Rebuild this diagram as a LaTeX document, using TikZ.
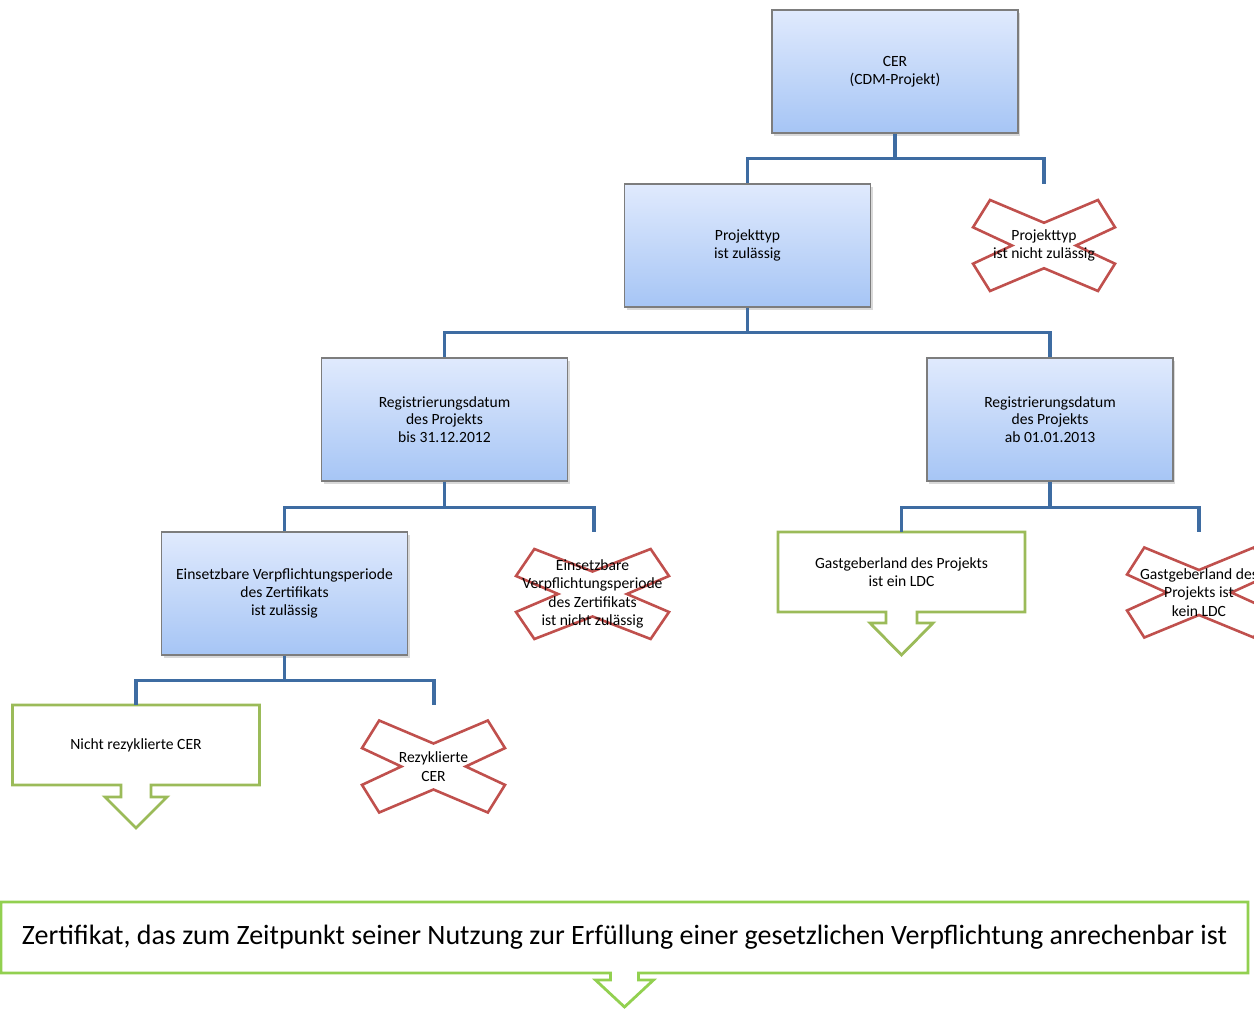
\documentclass[tikz,border=0pt]{standalone}
\usepackage{fontspec}
\setmainfont{Carlito}
\usetikzlibrary{calc,shadows,backgrounds}

\definecolor{astblau}{RGB}{62,108,162}
\definecolor{kastenrand}{RGB}{125,125,125}
\definecolor{kastenoben}{RGB}{224,234,253}
\definecolor{kastenunten}{RGB}{166,197,245}
\definecolor{kreuzrot}{RGB}{192,80,77}
\definecolor{olivgruen}{RGB}{155,187,89}
\definecolor{hellgruen}{RGB}{146,208,80}

\tikzset{
  kasten/.style={draw=kastenrand, line width=1.2pt, top color=kastenoben, bottom color=kastenunten,
    minimum width=246, minimum height=123, align=center, font=\fontsize{15.6}{17.8}\selectfont,
    drop shadow={shadow xshift=2pt, shadow yshift=-2.5pt, opacity=.3}},
  ziel/.style={minimum width=247, minimum height=80, outer sep=0pt, align=center,
    font=\fontsize{15.6}{17.8}\selectfont},
  nein/.style={inner sep=0pt, align=center, font=\fontsize{15.6}{18.5}\selectfont},
  ast/.style={draw=astblau, line width=3.2pt},
  rahmen/.style={line width=2.8pt, line join=miter},
  kreuz/.pic={\draw[draw=kreuzrot, line width=2.6pt, line join=miter]
    (-1,-.4) -- (-.76,-1) -- (0,-.5) -- (.76,-1) -- (1,-.4) -- (.45,0) -- (1,.4) -- (.76,1)
    -- (0,.5) -- (-.76,1) -- (-1,.4) -- (-.45,0) -- cycle;}
}

\begin{document}
\begin{tikzpicture}[x=1pt,y=-1pt]
\useasboundingbox (0,0) rectangle (1254,1009);
% Kaesten
\node[kasten] (cer) at (895,71.5) {CER\\(CDM-Projekt)};
\node[kasten] (pt) at (747.5,245.5) {Projekttyp\\ist zulässig};
\node[kasten] (rl) at (444.5,419.5) {Registrierungsdatum\\des Projekts\\bis 31.12.2012};
\node[kasten] (rr) at (1050,419.5) {Registrierungsdatum\\des Projekts\\ab 01.01.2013};
\node[kasten] (ez) at (284.5,593.5) {Einsetzbare Verpflichtungsperiode\\des Zertifikats\\ist zulässig};
% Ergebnisse
\node[ziel] (gl) at (901.5,572) {Gastgeberland des Projekts\\ist ein LDC};
\node[ziel] (nr) at (136,745) {Nicht rezyklierte CER};
\node[ziel, minimum width=1247, minimum height=71, font=\fontsize{28}{32}\selectfont] (zf) at (624.5,937.5)
  {Zertifikat, das zum Zeitpunkt seiner Nutzung zur Erfüllung einer gesetzlichen Verpflichtung anrechenbar ist};
% Ausschluesse
\node[nein] (k1) at (1044,245.5) {Projekttyp\\ist nicht zulässig};
\node[nein] (k2) at (592.5,594) {Einsetzbare\\Verpflichtungsperiode\\des Zertifikats\\ist nicht zulässig};
\node[nein] (k3) at (1199,592.5) {Gastgeberland des\\Projekts ist\\kein LDC};
\node[nein] (k4) at (433.5,766.5) {Rezyklierte\\CER};
\coordinate (k1o) at (1044,184);
\coordinate (k2o) at (594,532);
\coordinate (k3o) at (1199,532);
\coordinate (k4o) at (434,705);

\begin{scope}[on background layer]
\foreach \n/\a/\b in {k1/71/45.5, k2/76.5/45, k3/72/45, k4/71.5/46}
  \pic[xscale=\a,yscale=\b] at (\n) {kreuz};
\end{scope}

% Pfeilrahmen
\foreach \n/\s/\l/\h/\t/\f in {gl/15.5/11/31.5/43/olivgruen, nr/15/12/31/43/olivgruen, zf/14/7/29/34/hellgruen}
  \draw[rahmen, draw=\f] (\n.south west) -- (\n.north west) -- (\n.north east) -- (\n.south east)
    -- ($(\n.south)+(\s,0)$) -- ++(0,\l) -- ($(\n.south)+(\h,\l)$) -- ($(\n.south)+(0,\t)$)
    -- ($(\n.south)+(-\h,\l)$) -- ($(\n.south)+(-\s,\l)$) -- ($(\n.south)+(-\s,0)$) -- cycle;

% Verbindungen
\draw[ast] (cer.south) -- ++(0,25) coordinate (a1) -| (pt.north);
\draw[ast] (a1) -| (k1o);
\draw[ast] (pt.south) -- ++(0,25) coordinate (a2) -| (rl.north);
\draw[ast] (a2) -| (rr.north);
\draw[ast] (rl.south) -- ++(0,26) coordinate (a3) -| (ez.north);
\draw[ast] (a3) -| (k2o);
\draw[ast] (rr.south) -- ++(0,26) coordinate (a4) -| (gl.north);
\draw[ast] (a4) -| (k3o);
\draw[ast] (ez.south) -- ++(0,25) coordinate (a5) -| (nr.north);
\draw[ast] (a5) -| (k4o);
\end{tikzpicture}
\end{document}
